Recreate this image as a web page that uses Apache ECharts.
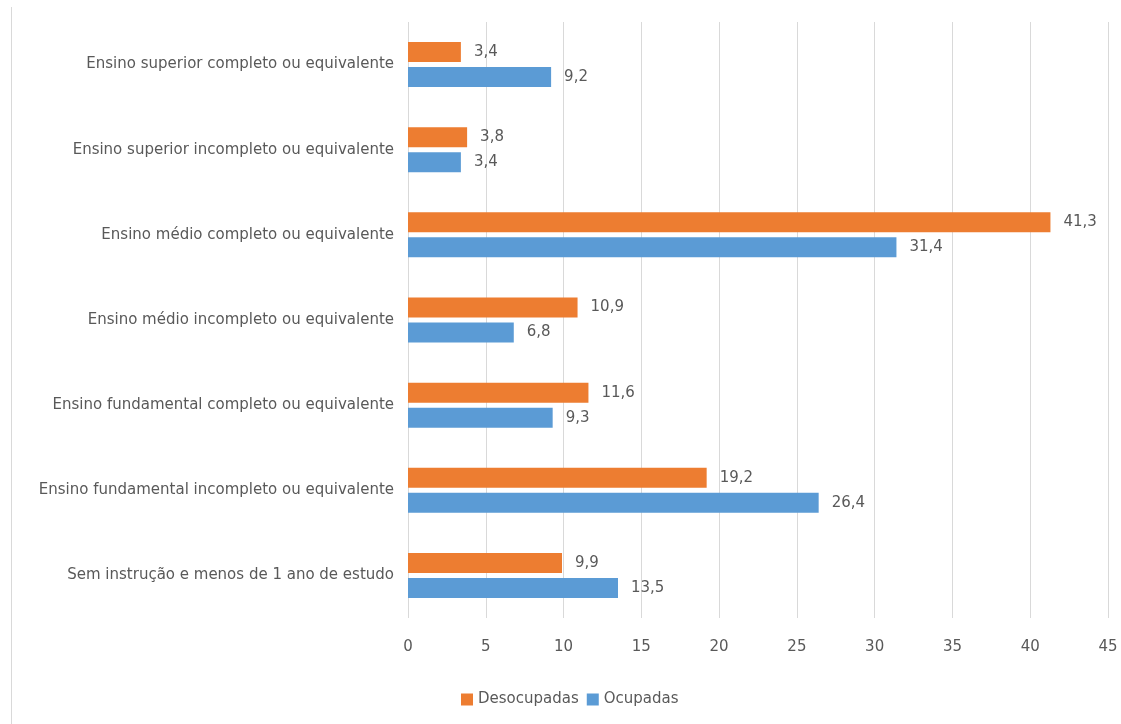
<!DOCTYPE html>
<html>
<head>
<meta charset="utf-8">
<script src="https://cdn.jsdelivr.net/npm/echarts@6/dist/echarts.min.js"></script>
<style>
  html, body { margin: 0; padding: 0; background: #fff; }
  #frame { position: absolute; left: 0; top: 0; width: 1121px; height: 724px; }
  #edge { position: absolute; left: 11px; top: 7px; width: 1px; height: 717px; background: #d9d9d9; }
  #chart { position: absolute; left: 0; top: 0; width: 1121px; height: 724px; }
</style>
</head>
<body>
<div id="frame">
  <div id="edge"></div>
  <div id="chart"></div>
</div>
<script>
// Escolaridade das pessoas desocupadas e ocupadas (%)
const categories = [
  'Ensino superior completo ou equivalente',
  'Ensino superior incompleto ou equivalente',
  'Ensino médio completo ou equivalente',
  'Ensino médio incompleto ou equivalente',
  'Ensino fundamental completo ou equivalente',
  'Ensino fundamental incompleto ou equivalente',
  'Sem instrução e menos de 1 ano de estudo'
];
const desocupadas = [3.4, 3.8, 41.3, 10.9, 11.6, 19.2, 9.9];
const ocupadas = [9.2, 3.4, 31.4, 6.8, 9.3, 26.4, 13.5];
const xTicks = [0, 5, 10, 15, 20, 25, 30, 35, 40, 45];

const FONT = '"DejaVu Sans", "Open Sans", sans-serif';
const TEXT = '#595959';

const fmt = v => String(v).replace('.', ',');

const chart = echarts.init(document.getElementById('chart'), null, { renderer: 'canvas' });
chart.setOption({
  animation: false,
  textStyle: { fontFamily: FONT },
  grid: { left: 408, right: 13, top: 22, bottom: 106, containLabel: false },
  legend: {
    top: 687,
    left: 456,
    itemWidth: 12,
    itemHeight: 12,
    itemGap: 8,
    icon: 'rect',
    textStyle: { color: TEXT, fontSize: 15, fontFamily: FONT },
    data: ['Desocupadas', 'Ocupadas']
  },
  xAxis: {
    type: 'value',
    min: xTicks[0],
    max: xTicks[xTicks.length - 1],
    interval: 5,
    axisLine: { show: false },
    axisTick: { show: false },
    splitLine: { show: true, lineStyle: { color: '#d9d9d9', width: 1 } },
    axisLabel: { color: TEXT, fontSize: 15, margin: 22, fontFamily: FONT }
  },
  yAxis: {
    type: 'category',
    inverse: true,
    data: categories,
    axisLine: { show: false },
    axisTick: { show: false },
    axisLabel: { color: TEXT, fontSize: 15, margin: 14, fontFamily: FONT }
  },
  series: [
    {
      name: 'Desocupadas',
      type: 'bar',
      data: desocupadas,
      barWidth: 20,
      barGap: '25%',
      itemStyle: { color: '#ED7D31' },
      label: { show: true, position: 'right', distance: 13, color: TEXT, fontSize: 15, fontFamily: FONT, formatter: p => fmt(p.value) }
    },
    {
      name: 'Ocupadas',
      type: 'bar',
      data: ocupadas,
      barWidth: 20,
      barGap: '25%',
      itemStyle: { color: '#5B9BD5' },
      label: { show: true, position: 'right', distance: 13, color: TEXT, fontSize: 15, fontFamily: FONT, formatter: p => fmt(p.value) }
    }
  ]
});
</script>
</body>
</html>
